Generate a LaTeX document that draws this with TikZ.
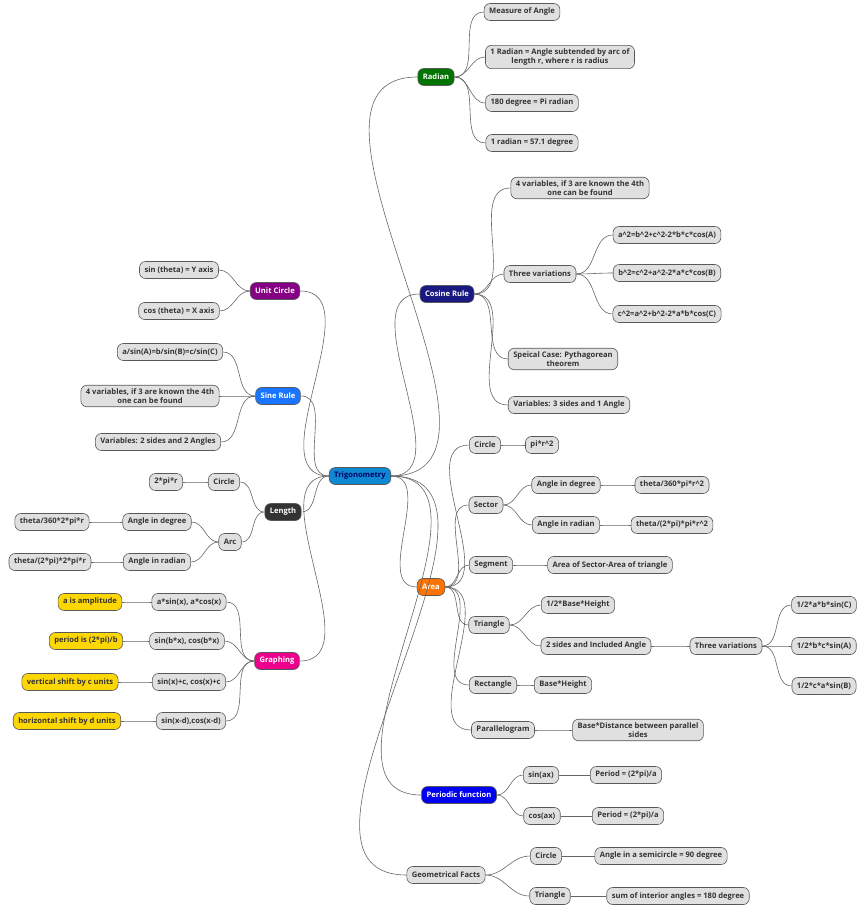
\documentclass[tikz,border=0pt]{standalone}
\usepackage{fontspec}
\setmainfont{Open Sans}
\begin{document}
\begin{tikzpicture}[x=1pt,y=-1pt,
  box/.style={draw=black!65,fill=black!12,rounded corners=6pt,font=\fontsize{7.6}{9}\selectfont\bfseries,text=black!80,inner xsep=5pt,minimum height=17pt,align=center,line width=0.6pt},
  cbox/.style={box,text=white},
  ybox/.style={box,fill=yellow!75!orange},
  conn/.style={draw=black!60,line width=0.6pt}]
\useasboundingbox (0,0) rectangle (864,908);
\newcommand\ce[2]{\draw[conn] (#1.east) to[out=0,in=180] (#2.west);}
\newcommand\cw[2]{\draw[conn] (#1.west) to[out=180,in=0] (#2.east);}
% root
\node[box,fill=cyan!70!blue,text=blue!40!black] (root) at (360,476) {Trigonometry};
% Radian
\node[cbox,fill=green!45!black] (rad) at (436,77) {Radian};
\node[box] (r1) at (522,12) {Measure of Angle};
\node[box] (r2) at (560,57) {1 Radian = Angle subtended by arc of\\length r, where r is radius};
\node[box] (r3) at (532,103) {180 degree = Pi radian};
\node[box] (r4) at (532,143) {1 radian = 57.1 degree};
\ce{root}{rad}\ce{rad}{r1}\ce{rad}{r2}\ce{rad}{r3}\ce{rad}{r4}
% Cosine rule
\node[cbox,fill=blue!45!black!90!white] (cos) at (447,294) {Cosine Rule};
\node[box] (c1) at (580,188) {4 variables, if 3 are known the 4th\\one can be found};
\node[box] (c2) at (540,274) {Three variations};
\node[box] (c3) at (563,359) {Speical Case: Pythagorean\\theorem};
\node[box] (c4) at (569,405) {Variables: 3 sides and 1 Angle};
\node[box] (c21) at (667,235) {a\^{}2=b\^{}2+c\^{}2-2*b*c*cos(A)};
\node[box] (c22) at (667,273) {b\^{}2=c\^{}2+a\^{}2-2*a*c*cos(B)};
\node[box] (c23) at (667,314) {c\^{}2=a\^{}2+b\^{}2-2*a*b*cos(C)};
\ce{root}{cos}\ce{cos}{c1}\ce{cos}{c2}\ce{cos}{c3}\ce{cos}{c4}
\ce{c2}{c21}\ce{c2}{c22}\ce{c2}{c23}
% Area
\node[cbox,fill=orange!90!red] (area) at (431,587) {Area};
\node[box] (a1) at (485,445) {Circle};
\node[box] (a11) at (542,445) {pi*r\^{}2};
\node[box] (a2) at (486,505) {Sector};
\node[box] (a21) at (566,485) {Angle in degree};
\node[box] (a211) at (672,485) {theta/360*pi*r\^{}2};
\node[box] (a22) at (566,525) {Angle in radian};
\node[box] (a221) at (672,525) {theta/(2*pi)*pi*r\^{}2};
\node[box] (a3) at (491,565) {Segment};
\node[box] (a31) at (610,565) {Area of Sector-Area of triangle};
\node[box] (a4) at (489,625) {Triangle};
\node[box] (a41) at (578,605) {1/2*Base*Height};
\node[box] (a42) at (596,646) {2 sides and Included Angle};
\node[box] (a421) at (726,646) {Three variations};
\node[box] (a4211) at (824,605) {1/2*a*b*sin(C)};
\node[box] (a4212) at (824,646) {1/2*b*c*sin(A)};
\node[box] (a4213) at (824,686) {1/2*c*a*sin(B)};
\node[box] (a5) at (493,685) {Rectangle};
\node[box] (a51) at (563,685) {Base*Height};
\node[box] (a6) at (503,730) {Parallelogram};
\node[box] (a61) at (638,730) {Base*Distance between parallel\\sides};
\ce{root}{area}
\ce{area}{a1}\ce{a1}{a11}
\ce{area}{a2}\ce{a2}{a21}\ce{a21}{a211}\ce{a2}{a22}\ce{a22}{a221}
\ce{area}{a3}\ce{a3}{a31}
\ce{area}{a4}\ce{a4}{a41}\ce{a4}{a42}\ce{a42}{a421}\ce{a421}{a4211}\ce{a421}{a4212}\ce{a421}{a4213}
\ce{area}{a5}\ce{a5}{a51}
\ce{area}{a6}\ce{a6}{a61}
% Periodic
\node[cbox,fill=blue!95!black] (per) at (459,795) {Periodic function};
\node[box] (p1) at (541,775) {sin(ax)};
\node[box] (p11) at (626,775) {Period = (2*pi)/a};
\node[box] (p2) at (542,816) {cos(ax)};
\node[box] (p21) at (628,816) {Period = (2*pi)/a};
\ce{root}{per}\ce{per}{p1}\ce{p1}{p11}\ce{per}{p2}\ce{p2}{p21}
% Geometrical
\node[box] (geo) at (446,875) {Geometrical Facts};
\node[box] (g1) at (546,856) {Circle};
\node[box] (g11) at (661,856) {Angle in a semicircle = 90 degree};
\node[box] (g2) at (550,896) {Triangle};
\node[box] (g21) at (678,896) {sum of interior angles = 180 degree};
\ce{root}{geo}\ce{geo}{g1}\ce{g1}{g11}\ce{geo}{g2}\ce{g2}{g21}
% Unit circle
\node[cbox,fill=violet!70!magenta!80!black] (uc) at (275,291) {Unit Circle};
\node[box] (u1) at (179,270) {sin (theta) = Y axis};
\node[box] (u2) at (179,311) {cos (theta) = X axis};
\cw{root}{uc}\cw{uc}{u1}\cw{uc}{u2}
% Sine rule
\node[cbox,fill=blue!60!cyan!90!white] (sr) at (278,396) {Sine Rule};
\node[box] (s1) at (170,352) {a/sin(A)=b/sin(B)=c/sin(C)};
\node[box] (s2) at (150,396) {4 variables, if 3 are known the 4th\\one can be found};
\node[box] (s3) at (158,442) {Variables: 2 sides and 2 Angles};
\cw{root}{sr}\cw{sr}{s1}\cw{sr}{s2}\cw{sr}{s3}
% Length
\node[cbox,fill=black!80] (len) at (283,512) {Length};
\node[box] (l1) at (224,482) {Circle};
\node[box] (l11) at (166,482) {2*pi*r};
\node[box] (l2) at (230,542) {Arc};
\node[box] (l21) at (157,522) {Angle in degree};
\node[box] (l211) at (52,522) {theta/360*2*pi*r};
\node[box] (l22) at (157,562) {Angle in radian};
\node[box] (l221) at (50,562) {theta/(2*pi)*2*pi*r};
\cw{root}{len}\cw{len}{l1}\cw{l1}{l11}\cw{len}{l2}\cw{l2}{l21}\cw{l21}{l211}\cw{l2}{l22}\cw{l22}{l221}
% Graphing
\node[cbox,fill=magenta] (gr) at (277,661) {Graphing};
\node[box] (h1) at (189,602) {a*sin(x), a*cos(x)};
\node[ybox] (h11) at (90,602) {a is amplitude};
\node[box] (h2) at (187,641) {sin(b*x), cos(b*x)};
\node[ybox] (h21) at (86,641) {period is (2*pi)/b};
\node[box] (h3) at (189,682) {sin(x)+c, cos(x)+c};
\node[ybox] (h31) at (70,682) {vertical shift by c units};
\node[box] (h4) at (191,721) {sin(x-d),cos(x-d)};
\node[ybox] (h41) at (67,721) {horizontal shift by d units};
\cw{root}{gr}\cw{gr}{h1}\cw{h1}{h11}\cw{gr}{h2}\cw{h2}{h21}\cw{gr}{h3}\cw{h3}{h31}\cw{gr}{h4}\cw{h4}{h41}
\end{tikzpicture}
\end{document}
